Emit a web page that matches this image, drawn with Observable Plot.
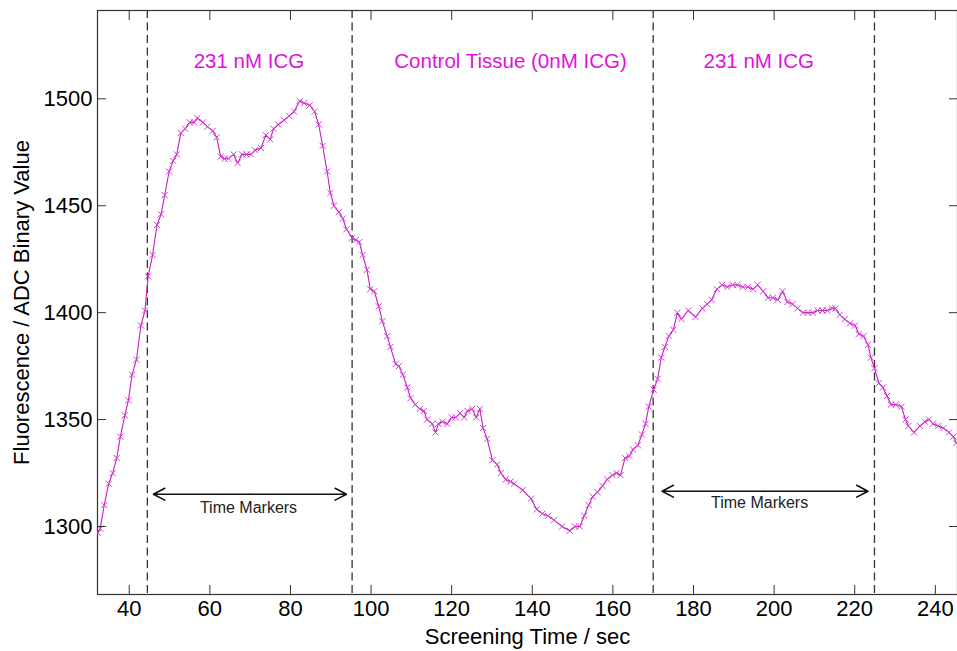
<!DOCTYPE html>
<html>
<head>
<meta charset="utf-8">
<script src="https://cdn.jsdelivr.net/npm/d3@7"></script>
<script src="https://cdn.jsdelivr.net/npm/@observablehq/plot@0.6"></script>
<style>
  html, body { margin: 0; padding: 0; background: #fff; }
  #chart svg { display: block; }
</style>
</head>
<body>
<div id="chart"></div>
<script>
// Screening time (s) and fluorescence (ADC binary value)
const timeSec = [
  32.2,32.8,33.8,34.9,35.9,36.9,37.8,38.9,39.8,40.7,
  41.8,42.9,43.9,44.7,45.8,46.9,47.9,48.8,49.9,50.9,
  51.8,52.8,53.9,55.0,56.1,56.9,58.3,59.4,60.7,61.7,
  62.7,63.7,64.6,65.9,66.9,68.0,69.1,70.2,71.2,72.7,
  73.9,75.0,75.8,77.0,78.4,79.7,80.9,82.3,83.4,84.8,
  86.0,87.0,88.0,89.1,89.9,90.8,92.0,93.0,93.9,95.3,
  96.2,97.1,97.9,99.0,99.8,100.8,101.9,102.8,104.0,104.8,
  106.1,106.9,107.9,109.0,109.8,111.0,112.1,113.1,113.9,115.2,
  116.0,116.7,117.7,118.9,120.0,121.0,122.1,123.1,123.9,125.1,
  126.1,127.0,127.8,128.8,130.1,131.3,132.2,133.4,134.6,135.5,
  137.6,139.7,141.1,142.5,143.9,145.4,147.4,149.3,150.6,151.8,
  152.9,154.0,155.0,156.2,157.4,158.6,159.9,160.9,161.9,163.0,
  164.1,165.0,166.2,167.2,168.1,168.9,170.1,171.1,172.0,172.9,
  173.9,175.0,176.0,177.0,178.7,180.5,182.2,183.4,184.5,185.8,
  187.1,188.4,189.7,190.9,192.2,193.5,194.8,195.9,197.3,198.5,
  199.7,200.9,202.1,203.3,204.6,205.8,207.2,208.4,209.6,210.8,
  212.0,213.2,214.4,215.2,216.3,217.5,218.8,220.1,221.0,222.2,
  223.3,224.0,224.9,226.0,227.0,228.0,229.0,230.2,231.6,232.6,
  233.3,234.7,236.2,237.4,238.4,239.4,240.7,242.0,243.4,244.5,
  245.2
];
const adcValue = [
  1297,1299,1310,1320,1325,1332,1342,1352,1359,1371,
  1378,1394,1401,1417,1427,1441,1446,1455,1466,1471,
  1474,1484,1486,1489,1489,1491,1489,1487,1485,1482,
  1473,1472,1472,1474,1470,1474,1474,1474,1476,1477,
  1483,1481,1486,1488,1490,1492,1494,1499,1498,1497,
  1494,1488,1478,1466,1456,1450,1447,1444,1439,1435,
  1434,1433,1427,1420,1411,1410,1403,1396,1389,1384,
  1376,1375,1371,1365,1360,1357,1355,1354,1350,1348,
  1344,1348,1349,1348,1351,1351,1353,1351,1354,1355,
  1351,1355,1346,1341,1331,1329,1325,1322,1321,1320,
  1317,1313,1308,1306,1305,1303,1300,1298,1300,1300,
  1305,1310,1314,1316,1319,1322,1324,1325,1324,1332,
  1333,1336,1338,1343,1348,1356,1364,1369,1379,1384,
  1389,1392,1400,1397,1401,1398,1402,1404,1406,1411,
  1413,1412,1413,1413,1412,1412,1411,1413,1410,1407,
  1407,1406,1410,1405,1404,1402,1400,1400,1400,1401,
  1401,1401,1402,1402,1399,1397,1395,1394,1390,1389,
  1385,1379,1374,1367,1365,1361,1357,1357,1356,1350,
  1347,1344,1347,1349,1350,1348,1347,1346,1344,1342,
  1339
];

// Axis ticks
const xTicks = [40, 60, 80, 100, 120, 140, 160, 180, 200, 220, 240];
const yTicks = [1300, 1350, 1400, 1450, 1500];

// Dashed time markers (s)
const markerTimes = [44.5, 95.3, 170.0, 224.9];

// Region labels
const regionLabels = ["231 nM ICG", "Control Tissue (0nM ICG)", "231 nM ICG"];
const regionLabelX = [69.7, 134.6, 196.2];
const regionLabelY = [1517.5, 1517.5, 1517.5];

// "Time Markers" double arrows
const arrowStartX = [46.0, 172.2];
const arrowEndX = [93.9, 223.3];
const arrowY = [1315.1, 1316.5];
const arrowLabels = ["Time Markers", "Time Markers"];
const arrowLabelX = [69.6, 196.4];
const arrowLabelY = [1308.5, 1310.9];

// Build arrow halves (from the middle outward to each tip)
const arrowHalves = [];
arrowStartX.forEach((x1, i) => {
  const mid = (x1 + arrowEndX[i]) / 2;
  arrowHalves.push({x1: mid, x2: x1, y: arrowY[i]});
  arrowHalves.push({x1: mid, x2: arrowEndX[i], y: arrowY[i]});
});

const FONT = "'Liberation Sans', Arial, Helvetica, sans-serif";
const AXIS = "#333333";

const chart = Plot.plot({
  width: 957,
  height: 651,
  marginLeft: 97,
  marginTop: 10,
  marginBottom: 57,
  marginRight: 0,
  style: {fontFamily: FONT, fontSize: "22px", color: "#000", background: "#fff"},
  x: {domain: [32.13, 245.5], axis: null},
  y: {domain: [1268.2, 1541.3], axis: null},
  marks: [
    Plot.frame({stroke: AXIS, strokeWidth: 1.2}),
    Plot.ruleX(markerTimes, {stroke: "#333", strokeWidth: 1.3, strokeDasharray: "8,4.5"}),
    Plot.line(timeSec, {x: timeSec, y: adcValue, stroke: "#c81cc8", strokeWidth: 1.1, clip: true}),
    Plot.dot(timeSec, {x: timeSec, y: adcValue, symbol: "times", r: 2.9, stroke: "#d040d0", strokeWidth: 1, clip: true}),
    Plot.text(regionLabels, {x: regionLabelX, y: regionLabelY, text: regionLabels, fill: "#e010e0", fontSize: 20.5, fontFamily: FONT}),
    Plot.arrow(arrowHalves, {x1: "x1", x2: "x2", y1: "y", y2: "y", stroke: "#111", strokeWidth: 1.6, headLength: 12, headAngle: 55}),
    Plot.text(arrowLabels, {x: arrowLabelX, y: arrowLabelY, text: arrowLabels, fill: "#222", fontSize: 16, fontFamily: FONT}),
    Plot.axisX(xTicks, {anchor: "bottom", tickSize: -9, tickPadding: 15, stroke: AXIS, fontSize: 22, fill: "#000",
      tickFormat: d => String(d),
      label: "Screening Time / sec", labelArrow: "none", labelAnchor: "center", labelOffset: 49}),
    Plot.axisX(xTicks, {anchor: "top", tickSize: -9, tickFormat: () => "", label: null, stroke: AXIS}),
    Plot.axisY(yTicks, {anchor: "left", tickSize: -9, tickPadding: 14, stroke: AXIS, fontSize: 22, fill: "#000",
      tickFormat: d => String(d),
      label: "Fluorescence / ADC Binary Value", labelArrow: "none", labelAnchor: "center", labelOffset: 84}),
    Plot.axisY(yTicks, {anchor: "right", tickSize: -9, tickFormat: () => "", label: null, stroke: AXIS})
  ]
});

document.getElementById("chart").appendChild(chart);
</script>
</body>
</html>
